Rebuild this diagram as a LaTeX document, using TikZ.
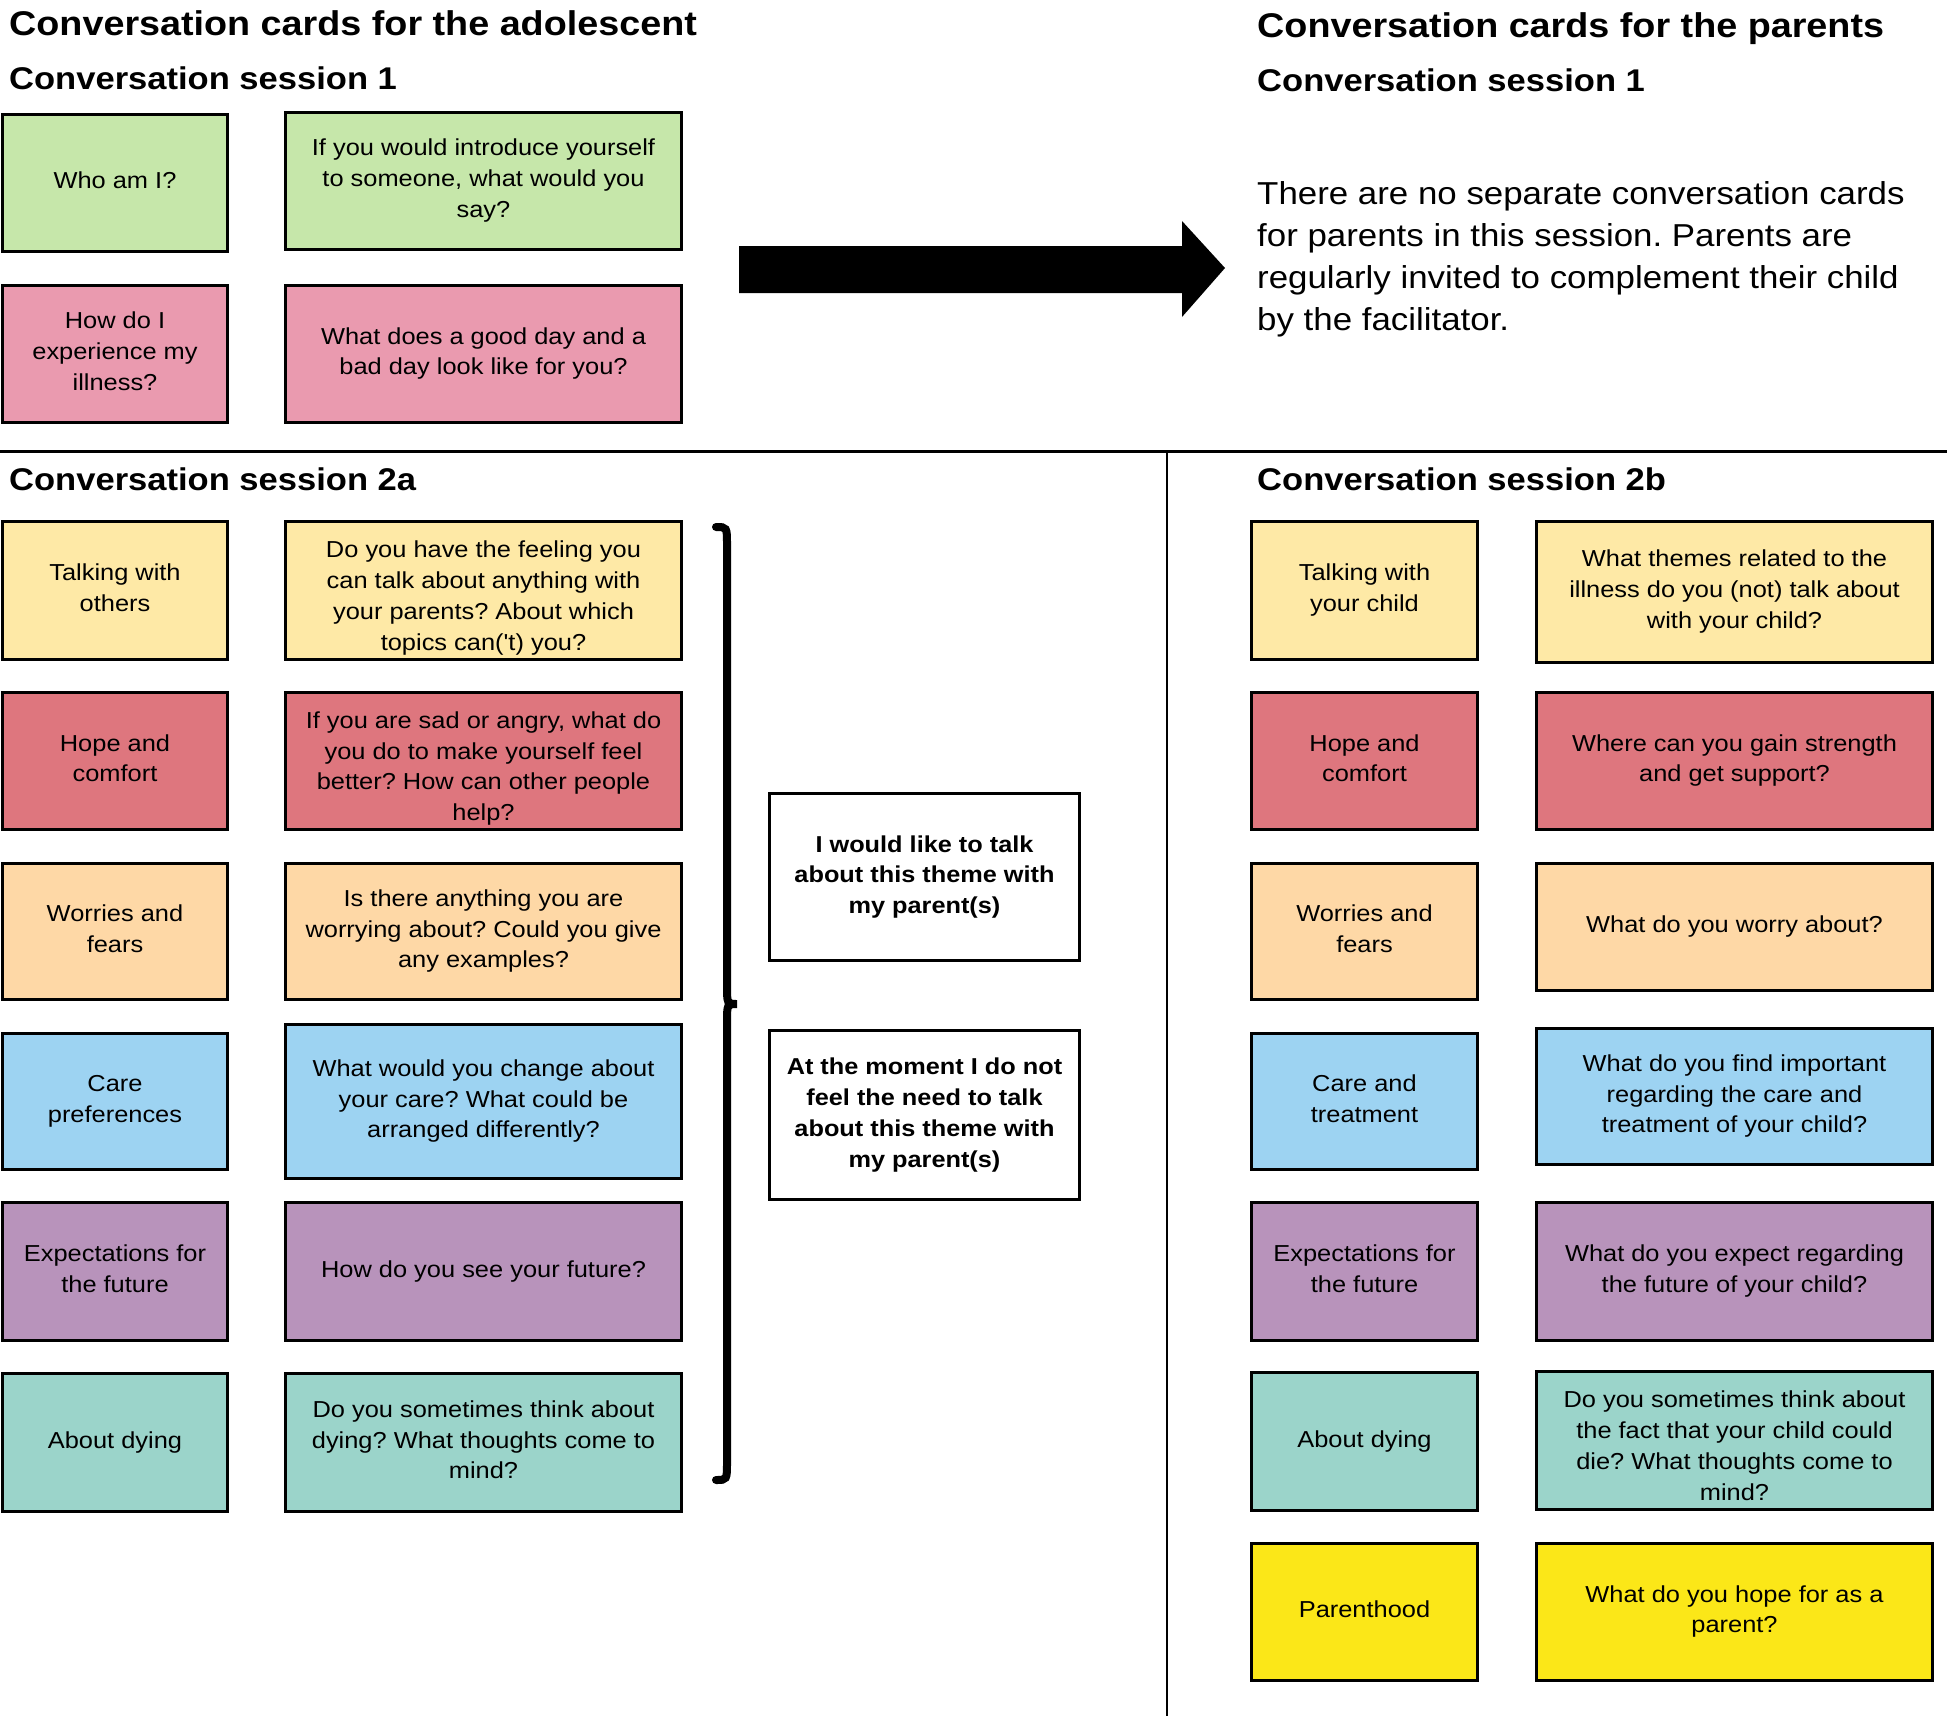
\documentclass[tikz,border=0pt]{standalone}
\usepackage{fontspec}
\setmainfont{Liberation Sans}[FakeStretch=1.1, Ligatures=TeXOff]
\definecolor{cgreen}{HTML}{C6E7AA}
\definecolor{cpink}{HTML}{EA9AAF}
\definecolor{cyellow}{HTML}{FEE9A6}
\definecolor{crose}{HTML}{DE767E}
\definecolor{cpeach}{HTML}{FED8A6}
\definecolor{cblue}{HTML}{9DD3F2}
\definecolor{cpurple}{HTML}{B893BB}
\definecolor{cteal}{HTML}{9BD4CA}
\definecolor{cbright}{HTML}{FBE718}
\newcommand\cardtxt{\fontsize{23.1}{30.7}\selectfont\frenchspacing}
\newcommand\choicetxt{\fontsize{23}{30.7}\selectfont\bfseries}
\tikzset{
  card/.style={draw=black, line width=3pt, rectangle, inner sep=0pt, align=center, font=\cardtxt},
  choicebox/.style={draw=black, line width=3pt, fill=white, rectangle, inner sep=0pt, align=center, font=\choicetxt},
  headA/.style={anchor=base west, inner sep=0pt, font=\fontsize{34.3}{40}\selectfont\bfseries},
  headB/.style={anchor=base west, inner sep=0pt, font=\fontsize{31.4}{36}\selectfont\bfseries},
  divider/.style={draw=black, line width=3pt},
}
% #1 = height of the strut on the first line (sets vertical placement of the text)
\newcommand\cardbox[8][19]{%
  \node[card, fill=#7, minimum width={(#5-#3-3)*1pt}, minimum height={(#6-#4-3)*1pt}] (#2) at ({(#3+#5)/2},{(#4+#6)/2})
    {\rule{0pt}{#1pt}#8\rule[-8pt]{0pt}{8pt}};}
\begin{document}
\begin{tikzpicture}[x=1pt,y=-1pt]
\useasboundingbox (0,0) rectangle (1947,1716);
\fill[white] (0,0) rectangle (1947,1716);

% headings
\node[headA] (tA) at (9,35) {Conversation cards for the adolescent};
\node[headB] (s1A) at (9,89) {Conversation session 1};
\node[headA] (tP) at (1257,37) {Conversation cards for the parents};
\node[headB] (s1P) at (1257,91) {Conversation session 1};
\node[anchor=north west, inner sep=0pt, align=left, font=\fontsize{31.7}{42.2}\selectfont\frenchspacing] (note) at (1257,181)
  {There are no separate conversation cards\\for parents in this session. Parents are\\regularly invited to complement their child\\by the facilitator.};

% session 1 cards
\cardbox{who}{1}{113}{229}{253}{cgreen}{Who am I?}
\cardbox{intro}{284}{111}{683}{251}{cgreen}{If you would introduce yourself\\to someone, what would you\\say?}
\cardbox{exper}{1}{284}{229}{424}{cpink}{How do I\\experience my\\illness?}
\cardbox{day}{284}{284}{683}{424}{cpink}{What does a good day and a\\bad day look like for you?}

% block arrow
\fill[black] (739,246) -- (1182,246) -- (1182,221) -- (1225,268) -- (1182,317) -- (1182,293) -- (739,293) -- cycle;

% dividers
\draw[divider] (0,451) -- (1947,451);
\draw[divider, line width=2.5pt] (1167,451) -- (1167,1716);

\node[headB] (s2a) at (9,490) {Conversation session 2a};
\node[headB] (s2b) at (1257,490) {Conversation session 2b};

% session 2a
\cardbox{aTalk}{1}{520}{229}{661}{cyellow}{Talking with\\others}
\cardbox[35]{aTalkQ}{284}{520}{683}{661}{cyellow}{Do you have the feeling you\\can talk about anything with\\your parents? About which\\topics can('t) you?}
\cardbox{aHope}{1}{691}{229}{831}{crose}{Hope and\\comfort}
\cardbox[35]{aHopeQ}{284}{691}{683}{831}{crose}{If you are sad or angry, what do\\you do to make yourself feel\\better? How can other people\\help?}
\cardbox{aWorry}{1}{862}{229}{1001}{cpeach}{Worries and\\fears}
\cardbox{aWorryQ}{284}{862}{683}{1001}{cpeach}{Is there anything you are\\worrying about? Could you give\\any examples?}
\cardbox{aCare}{1}{1032}{229}{1171}{cblue}{Care\\preferences}
\cardbox{aCareQ}{284}{1023}{683}{1180}{cblue}{What would you change about\\your care? What could be\\arranged differently?}
\cardbox{aExp}{1}{1201}{229}{1342}{cpurple}{Expectations for\\the future}
\cardbox{aExpQ}{284}{1201}{683}{1342}{cpurple}{How do you see your future?}
\cardbox{aDie}{1}{1372}{229}{1513}{cteal}{About dying}
\cardbox{aDieQ}{284}{1372}{683}{1513}{cteal}{Do you sometimes think about\\dying? What thoughts come to\\mind?}

% brace
\draw[line width=8pt, line cap=round, line join=miter] (716,527) .. controls (727,527) .. (727,545) -- (727,985)
  .. controls (727,1004) .. (737,1004) .. controls (727,1004) .. (727,1023) -- (727,1462)
  .. controls (727,1480) .. (716,1480);

% choice boxes
\node[choicebox, minimum width=310pt, minimum height=167pt] (like) at (924.5,877)
  {I would like to talk\\about this theme with\\my parent(s)};
\node[choicebox, minimum width=310pt, minimum height=169pt] (notneed) at (924.5,1115)
  {At the moment I do not\\feel the need to talk\\about this theme with\\my parent(s)};

% session 2b
\cardbox{bTalk}{1250}{520}{1479}{661}{cyellow}{Talking with\\your child}
\cardbox{bTalkQ}{1535}{520}{1934}{664}{cyellow}{What themes related to the\\illness do you (not) talk about\\with your child?}
\cardbox{bHope}{1250}{691}{1479}{831}{crose}{Hope and\\comfort}
\cardbox{bHopeQ}{1535}{691}{1934}{831}{crose}{Where can you gain strength\\and get support?}
\cardbox{bWorry}{1250}{862}{1479}{1001}{cpeach}{Worries and\\fears}
\cardbox{bWorryQ}{1535}{862}{1934}{992}{cpeach}{What do you worry about?}
\cardbox{bCare}{1250}{1032}{1479}{1171}{cblue}{Care and\\treatment}
\cardbox{bCareQ}{1535}{1027}{1934}{1166}{cblue}{What do you find important\\regarding the care and\\treatment of your child?}
\cardbox{bExp}{1250}{1201}{1479}{1342}{cpurple}{Expectations for\\the future}
\cardbox{bExpQ}{1535}{1201}{1934}{1342}{cpurple}{What do you expect regarding\\the future of your child?}
\cardbox{bDie}{1250}{1371}{1479}{1512}{cteal}{About dying}
\cardbox[35]{bDieQ}{1535}{1370}{1934}{1511}{cteal}{Do you sometimes think about\\the fact that your child could\\die? What thoughts come to\\mind?}
\cardbox{bPar}{1250}{1542}{1479}{1682}{cbright}{Parenthood}
\cardbox{bParQ}{1535}{1542}{1934}{1682}{cbright}{What do you hope for as a\\parent?}
\end{tikzpicture}
\end{document}
